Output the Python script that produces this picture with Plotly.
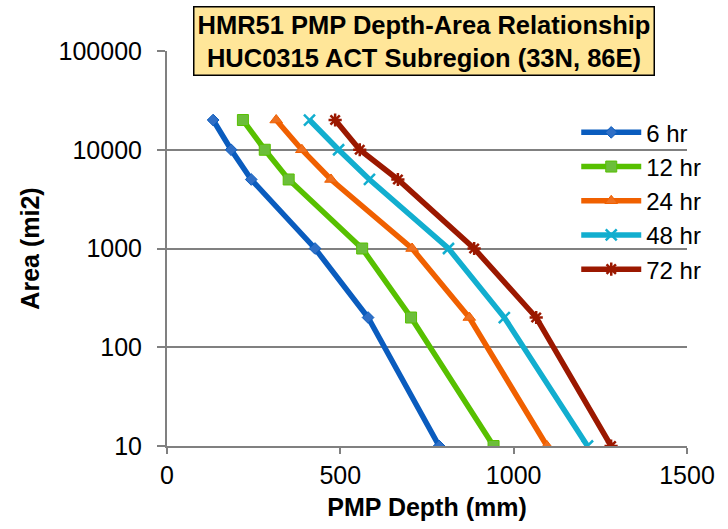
import plotly.graph_objects as go

areas = [10, 200, 1000, 5000, 10000, 20000]
depth_6hr = [785, 580, 427, 243, 185, 133]
depth_12hr = [942, 704, 563, 351, 282, 219]
depth_24hr = [1096, 872, 707, 473, 389, 315]
depth_48hr = [1213, 973, 812, 584, 495, 411]
depth_72hr = [1281, 1065, 886, 666, 556, 485]

series = [
    ("6 hr", depth_6hr, "#0A5CBE", "#2F6FC6", "diamond", 9),
    ("12 hr", depth_12hr, "#57C000", "#6CBE3A", "square", 11),
    ("24 hr", depth_24hr, "#F06000", "#EE7020", "triangle-up", 11),
    ("48 hr", depth_48hr, "#12AECF", "#12AECF", "x-thin-open", 11),
    ("72 hr", depth_72hr, "#9B1800", "#9B1800", "asterisk-open", 11),
]

fig = go.Figure()
for name, d, lc, mc, sym, sz in series:
    open_sym = sym.endswith("open")
    fig.add_trace(go.Scatter(
        x=d, y=areas, name=name, mode="lines+markers",
        line=dict(color=lc, width=5.5),
        marker=dict(symbol=sym, size=sz, color=mc,
                    line=dict(color=lc, width=2.5 if open_sym else 1)),
    ))

fig.update_layout(
    width=728, height=529,
    margin=dict(l=167, r=41, t=51, b=83),
    paper_bgcolor="white", plot_bgcolor="white",
    font=dict(family="Liberation Sans, Arial, sans-serif", color="black"),
    showlegend=True,
    legend=dict(x=0.787, y=0.85, xanchor="left", yanchor="top",
                bgcolor="rgba(0,0,0,0)", font=dict(size=24),
                itemwidth=60, tracegroupgap=0),
    xaxis=dict(range=[0, 1500], tickvals=[0, 500, 1000, 1500],
               ticktext=["0", "500", "1000", "1500"],
               showgrid=False, zeroline=False,
               showline=True, linecolor="#808080", linewidth=2,
               ticks="outside", ticklen=6, tickwidth=2, tickcolor="#808080",
               tickfont=dict(size=25),
               title=dict(text="<b>PMP Depth (mm)</b>", font=dict(size=25), standoff=10)),
    yaxis=dict(type="log", range=[1, 5],
               tickvals=[10, 100, 1000, 10000, 100000],
               ticktext=["10", "100", "1000", "10000", "100000"],
               showgrid=True, gridcolor="#808080", gridwidth=2,
               zeroline=False,
               showline=True, linecolor="#808080", linewidth=2,
               ticks="outside", ticklen=8, tickwidth=2, tickcolor="#808080",
               ticklabelstandoff=10,
               tickfont=dict(size=25),
               title=dict(text="<b>Area (mi2)</b>", font=dict(size=25), standoff=12)),
)

fig.add_annotation(
    x=0.495, y=1.025, xref="paper", yref="paper",
    xanchor="center", yanchor="middle", showarrow=False,
    text="<b>HMR51 PMP Depth-Area Relationship<br>HUC0315 ACT Subregion (33N, 86E)</b>",
    font=dict(size=25.5, color="black"),
    bgcolor="#FFE699", bordercolor="black", borderwidth=1.5, borderpad=3,
    align="center",
)

fig.write_html("out.html")
